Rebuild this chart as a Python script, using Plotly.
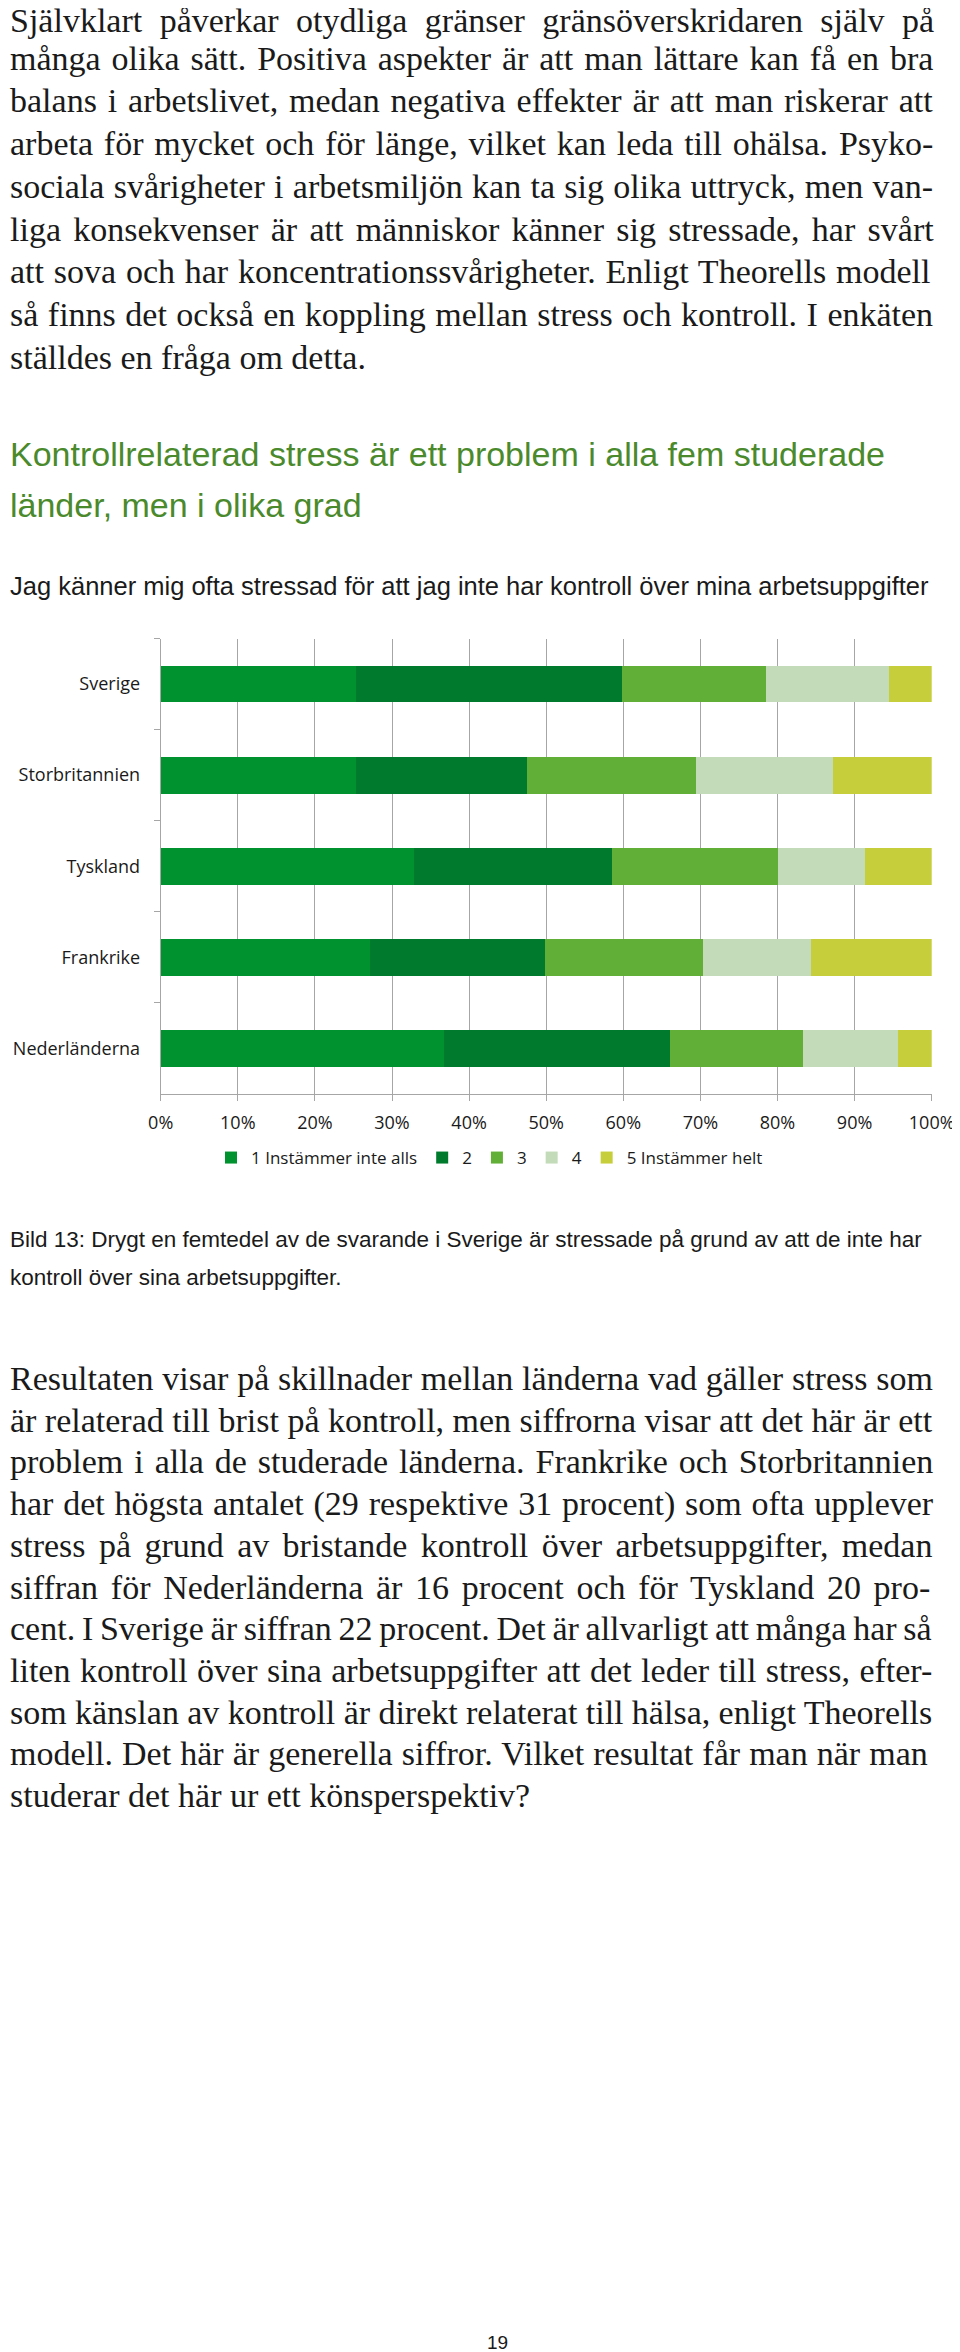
import plotly.graph_objects as go

# ---------------- data ----------------
countries = ["Sverige", "Storbritannien", "Tyskland", "Frankrike", "Nederländerna"]
series_names = ["1 Instämmer inte alls", "2", "3", "4", "5 Instämmer helt"]
s1 = [25.3, 25.3, 32.8, 27.1, 36.7]
s2 = [34.5, 22.2, 25.7, 22.7, 29.4]
s3 = [18.7, 21.9, 21.5, 20.6, 17.2]
s4 = [16.0, 17.8, 11.3, 14.0, 12.3]
s5 = [5.5, 12.8, 8.7, 15.6, 4.4]
series_values = [s1, s2, s3, s4, s5]
series_colors = ["#00922E", "#007B2D", "#62AF37", "#C4DBB9", "#C6CE3B"]
x_tick_values = [0, 10, 20, 30, 40, 50, 60, 70, 80, 90, 100]
x_tick_labels = ["0%", "10%", "20%", "30%", "40%", "50%", "60%", "70%", "80%", "90%", "100%"]

para1 = [
    "Självklart påverkar otydliga gränser gränsöverskridaren själv på",
    "många olika sätt. Positiva aspekter är att man lättare kan få en bra",
    "balans i arbetslivet, medan negativa effekter är att man riskerar att",
    "arbeta för mycket och för länge, vilket kan leda till ohälsa. Psyko-",
    "sociala svårigheter i arbetsmiljön kan ta sig olika uttryck, men van-",
    "liga konsekvenser är att människor känner sig stressade, har svårt",
    "att sova och har koncentrationssvårigheter. Enligt Theorells modell",
    "så finns det också en koppling mellan stress och kontroll. I enkäten",
    "ställdes en fråga om detta.",
]
heading = [
    "Kontrollrelaterad stress är ett problem i alla fem studerade",
    "länder, men i olika grad",
]
subtitle = "Jag känner mig ofta stressad för att jag inte har kontroll över mina arbetsuppgifter"
caption = [
    "Bild 13: Drygt en femtedel av de svarande i Sverige är stressade på grund av att de inte har",
    "kontroll över sina arbetsuppgifter.",
]
para2 = [
    "Resultaten visar på skillnader mellan länderna vad gäller stress som",
    "är relaterad till brist på kontroll, men siffrorna visar att det här är ett",
    "problem i alla de studerade länderna. Frankrike och Storbritannien",
    "har det högsta antalet (29 respektive 31 procent) som ofta upplever",
    "stress på grund av bristande kontroll över arbetsuppgifter, medan",
    "siffran för Nederländerna är 16 procent och för Tyskland 20 pro-",
    "cent. I Sverige är siffran 22 procent. Det är allvarligt att många har så",
    "liten kontroll över sina arbetsuppgifter att det leder till stress, efter-",
    "som känslan av kontroll är direkt relaterat till hälsa, enligt Theorells",
    "modell. Det här är generella siffror. Vilket resultat får man när man",
    "studerar det här ur ett könsperspektiv?",
]
page_number = "19"

# ---------------- page geometry ----------------
# The page body has an 8px default margin, so the figure starts at (8, 8)
# on screen; all coordinates below are given in screen pixels.
OFF = 8
W, H = 960 - OFF, 2352 - OFF


def px(x):
    return (x - OFF) / W


def py(y):
    return 1 - (y - OFF) / H


# Times / Liberation Serif advance widths (per 1000 em)
TW = {}
for ch, w in zip("abcdefghijklmnopqrstuvwxyz",
                 [444, 500, 444, 500, 444, 333, 500, 500, 278, 278, 500, 278, 778,
                  500, 500, 500, 500, 333, 389, 278, 500, 500, 722, 500, 500, 444]):
    TW[ch] = w
for ch, w in zip("ABCDEFGHIJKLMNOPQRSTUVWXYZ",
                 [722, 667, 667, 722, 611, 556, 722, 722, 333, 389, 722, 611, 889,
                  722, 722, 556, 722, 667, 556, 611, 722, 722, 944, 722, 722, 611]):
    TW[ch] = w
TW.update({"å": 444, "ä": 444, "ö": 500, "Å": 722, "Ä": 722, "Ö": 722,
           " ": 250, ".": 250, ",": 250, "-": 333, "(": 333, ")": 333,
           "?": 444, ":": 278})
for d in "0123456789":
    TW[d] = 500


def text_width(s, fs):
    return 1.025 * sum(TW.get(c, 500) for c in s) / 1000.0 * fs


BODY_FONT = "Liberation Serif, Times New Roman, serif"
BODY_FS = 34
LEFT, RIGHT = 8, 954

annotations = []


def body_paragraph(lines, baselines):
    for i, (line, base) in enumerate(zip(lines, baselines)):
        last = i == len(lines) - 1
        n_sp = line.count(" ")
        if not last and n_sp > 0:
            ws = (RIGHT - LEFT - text_width(line, BODY_FS)) / n_sp
            txt = '<span style="word-spacing:%.2fpx">%s</span>' % (ws, line)
        else:
            txt = line
        annotations.append(dict(
            x=px(LEFT), y=py(base - 0.338 * BODY_FS), xref="paper", yref="paper",
            xanchor="left", yanchor="middle", showarrow=False, text=txt,
            font=dict(family=BODY_FONT, size=BODY_FS, color="#1a1a1a"),
        ))


SANS = "Liberation Sans, Arial, sans-serif"


def sans_line(text, x, baseline, fs, color, xanchor="left"):
    annotations.append(dict(
        x=px(x), y=py(baseline - 0.347 * fs), xref="paper", yref="paper",
        xanchor=xanchor, yanchor="middle", showarrow=False, text=text,
        font=dict(family=SANS, size=fs, color=color),
    ))


# first line sits a little lower so its ascenders stay inside the figure
p1_baselines = [32] + [27 + i * 42.7 for i in range(1, len(para1))]
p2_baselines = [1390 + i * 41.7 for i in range(len(para2))]

body_paragraph(para1, p1_baselines)
sans_line(heading[0], 8, 466, 34, "#4A8A2C")
sans_line(heading[1], 8, 517, 34, "#4A8A2C")
sans_line(subtitle, 8, 595, 25.5, "#1a1a1a")
sans_line(caption[0], 8, 1247, 22.5, "#1a1a1a")
sans_line(caption[1], 8, 1285, 22.5, "#1a1a1a")
body_paragraph(para2, p2_baselines)
sans_line(page_number, 498, 2349, 19, "#1a1a1a", xanchor="center")

# ---------------- chart ----------------
fig = go.Figure()
for name, vals, col in zip(series_names, series_values, series_colors):
    fig.add_trace(go.Bar(
        y=countries, x=vals, name=name, orientation="h",
        marker=dict(color=col, line=dict(width=0)),
        hoverinfo="skip",
    ))

CHART_FONT = "Open Sans, sans-serif"
GRID = "#A6A6A6"

fig.update_layout(
    width=W, height=H,
    margin=dict(l=0, r=0, t=0, b=0, autoexpand=False),
    paper_bgcolor="white", plot_bgcolor="white",
    barmode="stack", bargap=0.597,
    showlegend=True,
    legend=dict(
        orientation="h", x=px(211), xanchor="left", y=py(1158), yanchor="middle",
        font=dict(family=CHART_FONT, size=17, color="#1a1a1a"),
        bgcolor="rgba(0,0,0,0)", traceorder="normal",
    ),
    xaxis=dict(
        domain=[px(160.7), px(931.7)], range=[0, 100],
        tickmode="array", tickvals=x_tick_values, ticktext=x_tick_labels,
        showgrid=True, gridcolor=GRID, gridwidth=1,
        showline=True, linecolor=GRID, linewidth=1,
        ticks="outside", ticklen=6, tickcolor=GRID, tickwidth=1,
        tickfont=dict(family=CHART_FONT, size=18, color="#1a1a1a"),
        ticklabelstandoff=6, ticklabeloverflow="allow",
        zeroline=False, fixedrange=True, automargin=False,
    ),
    yaxis=dict(
        domain=[py(1094), py(638.5)],
        categoryorder="array", categoryarray=countries, autorange="reversed",
        showgrid=False, showline=True, linecolor=GRID, linewidth=1,
        ticks="outside", ticklen=6, tickcolor=GRID, tickwidth=1,
        tickson="boundaries",
        tickfont=dict(family=CHART_FONT, size=18, color="#1a1a1a"),
        ticklabelstandoff=16,
        zeroline=False, fixedrange=True, automargin=False,
    ),
    annotations=annotations,
)

fig.write_html("out.html", config={"displayModeBar": False})
